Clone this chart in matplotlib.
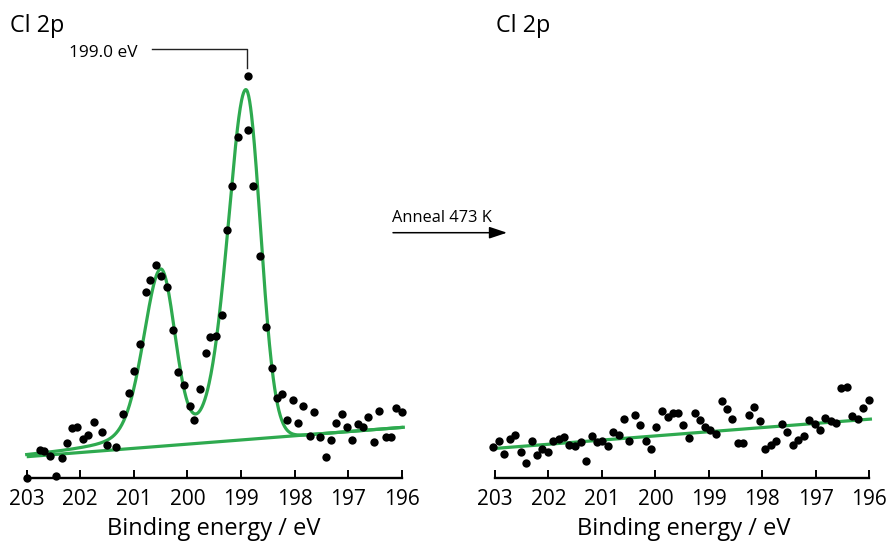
import numpy as np
import matplotlib
matplotlib.use("Agg")
import matplotlib.pyplot as plt

plt.rcParams['font.family'] = ['Open Sans', 'DejaVu Sans']

# ---------------- data ----------------
left_be = [203.00, 202.76, 202.67, 202.57, 202.46, 202.35, 202.25, 202.16, 202.06, 201.95,
           201.85, 201.74, 201.60, 201.50, 201.34, 201.20, 201.09, 200.99, 200.89, 200.78,
           200.69, 200.58, 200.49, 200.38, 200.27, 200.17, 200.06, 199.96, 199.87, 199.77,
           199.66, 199.57, 199.47, 199.36, 199.27, 199.16, 199.06, 198.87, 198.86, 198.78,
           198.64, 198.54, 198.43, 198.33, 198.24, 198.14, 198.03, 197.93, 197.84, 197.72,
           197.64, 197.52, 197.42, 197.32, 197.23, 197.12, 197.02, 196.92, 196.82, 196.72,
           196.62, 196.51, 196.42, 196.30, 196.20, 196.11, 196.00]
left_int = [0, 28, 27, 22, 2, 20, 35, 50, 51, 39,
            43, 56, 46, 33, 31, 64, 85, 107, 134, 186,
            198, 213, 202, 191, 148, 106, 93, 72, 58, 89,
            125, 141, 142, 163, 248, 292, 341, 402, 348, 292,
            222, 151, 110, 80, 84, 58, 78, 55, 72, 42,
            66, 41, 21, 38, 55, 64, 51, 38, 54, 51,
            61, 36, 67, 41, 41, 70, 66]

right_be = [203.03, 202.93, 202.83, 202.72, 202.63, 202.52, 202.42, 202.31, 202.22, 202.12,
            202.01, 201.91, 201.80, 201.71, 201.61, 201.50, 201.40, 201.30, 201.19, 201.10,
            200.99, 200.89, 200.80, 200.69, 200.59, 200.49, 200.39, 200.28, 200.18, 200.08,
            199.98, 199.88, 199.77, 199.68, 199.57, 199.48, 199.37, 199.26, 199.17, 199.07,
            198.97, 198.87, 198.76, 198.66, 198.56, 198.46, 198.36, 198.25, 198.15, 198.04,
            197.95, 197.84, 197.74, 197.63, 197.53, 197.43, 197.33, 197.22, 197.12, 197.02,
            196.92, 196.83, 196.72, 196.62, 196.53, 196.42, 196.32, 196.22, 196.11, 196.01]
right_int = [31, 37, 24, 39, 43, 26, 15, 37, 23, 29,
             26, 37, 39, 41, 33, 32, 36, 17, 42, 36,
             37, 32, 46, 43, 59, 37, 63, 53, 37, 29,
             51, 67, 61, 65, 65, 53, 40, 65, 58, 51,
             48, 44, 77, 69, 59, 35, 35, 63, 71, 57,
             29, 33, 37, 54, 46, 33, 38, 42, 58, 54,
             48, 60, 57, 55, 90, 91, 62, 59, 70, 78]

# fit components (left spectrum)
bg_left_be = [203.0, 195.97]
bg_left_int = [21.3, 50.7]
peak_centers = [198.91, 200.50]
peak_heights = [350, 171]
peak_hwhm_high = [0.40, 0.385]   # high-BE side half widths
peak_hwhm_low = [0.32, 0.31]     # low-BE side half widths
tail_lorentz_frac = 0.3

# linear fit (right spectrum)
bg_right_be = [202.97, 195.95]
bg_right_int = [29.7, 59.0]

tick_vals = [203, 202, 201, 200, 199, 198, 197, 196]

GREEN = '#2eaa4f'
W, H = 888, 546

def envelope(x):
    bg = np.interp(x, bg_left_be[::-1], bg_left_int[::-1])
    tot = bg.copy()
    for c, h, wh, wl in zip(peak_centers, peak_heights, peak_hwhm_high, peak_hwhm_low):
        d = x - c
        w = np.where(d > 0, wh, wl)
        r = d / w
        g = np.exp(-np.log(2) * r ** 2)
        l = 1.0 / (1.0 + r ** 2)
        eta = np.where(d > 0, tail_lorentz_frac, 0.0)
        tot = tot + h * ((1 - eta) * g + eta * l)
    return tot

fig = plt.figure(figsize=(W / 100, H / 100), dpi=100)

ax_h = 438
axL = fig.add_axes([26.7 / W, (H - 478) / H, 375 / W, ax_h / H])
axR = fig.add_axes([495 / W, (H - 478) / H, 374.3 / W, ax_h / H])

for ax in (axL, axR):
    ax.set_xlim(203, 196)
    ax.set_ylim(0, ax_h)
    for s in ('left', 'right', 'top'):
        ax.spines[s].set_visible(False)
    ax.spines['bottom'].set_linewidth(1.7)
    ax.set_yticks([])
    ax.set_xticks(tick_vals)
    ax.set_xticklabels([str(t) for t in tick_vals])
    ax.tick_params(axis='x', direction='in', length=5.5, width=1.4,
                   labelsize=15, pad=8, colors='black')
    ax.patch.set_alpha(0)

xs = np.linspace(bg_left_be[0], bg_left_be[1], 800)
axL.plot(bg_left_be, bg_left_int, color=GREEN, lw=2.3, clip_on=False, zorder=2,
         solid_capstyle='butt')
axL.plot(xs, envelope(xs), color=GREEN, lw=2.3, clip_on=False, zorder=2)
axL.scatter(left_be, left_int, s=36, color='black', zorder=3, clip_on=False, lw=0)

axR.plot(bg_right_be, bg_right_int, color=GREEN, lw=2.3, clip_on=False, zorder=2,
         solid_capstyle='butt')
axR.scatter(right_be, right_int, s=36, color='black', zorder=3, clip_on=False, lw=0)

def fx(px):
    return px / W

def fy(py):
    return 1 - py / H

# titles
fig.text(fx(10), fy(31.7), 'Cl 2p', fontsize=16.8, ha='left', va='baseline')
fig.text(fx(496), fy(31.7), 'Cl 2p', fontsize=16.8, ha='left', va='baseline')

# axis labels
fig.text(fx(214), fy(535), 'Binding energy / eV', fontsize=17, ha='center', va='baseline')
fig.text(fx(684), fy(535), 'Binding energy / eV', fontsize=17, ha='center', va='baseline')

# peak annotation
fig.text(fx(137), fy(56.7), '199.0 eV', fontsize=12.4, ha='right', va='baseline')
fig.add_artist(plt.Line2D([fx(151.7), fx(246.7), fx(246.7)], [fy(49), fy(49), fy(68.3)],
                          color='#222222', lw=1.0, transform=fig.transFigure))

# anneal arrow
fig.text(fx(391.7), fy(221.7), 'Anneal 473 K', fontsize=11.8, ha='left', va='baseline')
fig.add_artist(matplotlib.patches.FancyArrowPatch(
    (fx(393), fy(232.7)), (fx(507), fy(232.7)), transform=fig.transFigure,
    arrowstyle='-|>,head_length=0.9,head_width=0.3', mutation_scale=12,
    color='black', lw=1.1, shrinkA=0, shrinkB=0))

fig.savefig('out.png', dpi=100, facecolor='white')
